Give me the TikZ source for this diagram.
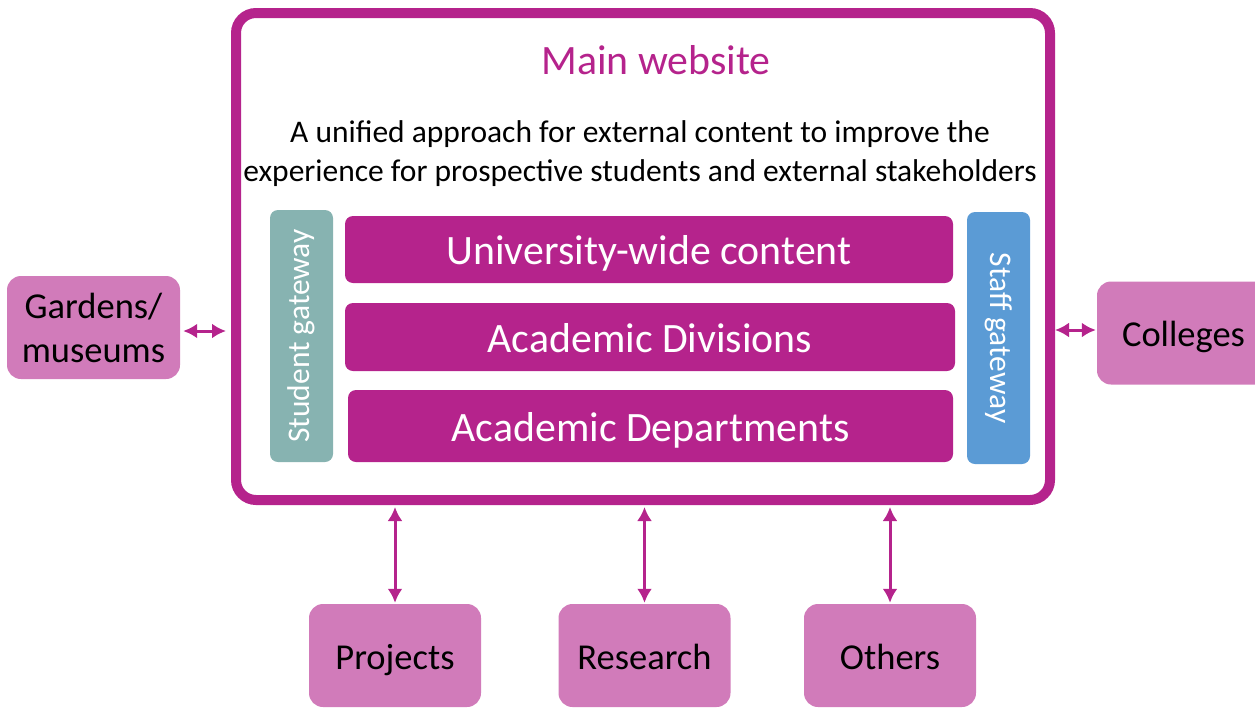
\documentclass[tikz,border=0pt]{standalone}
\usepackage{fontspec}
\setmainfont{Carlito}
\usepackage{tikz}
\usetikzlibrary{positioning}
\usetikzlibrary{arrows.meta}
\tikzset{>=latex}

\definecolor{webmag}{RGB}{181,35,140}
\definecolor{weblight}{RGB}{209,123,186}
\definecolor{webteal}{RGB}{135,179,177}
\definecolor{webblue}{RGB}{91,155,213}

\tikzset{
  oneline/.style={text height=#1, text depth=0pt},
  layerbox/.style={fill=webmag, rounded corners=8pt, text=white, inner sep=0pt, oneline=30pt,
    font=\fontsize{41.8}{46}\selectfont},
  gatebox/.style={rounded corners=8pt, text=white, inner sep=0pt,
    minimum width=63pt, minimum height=252pt, font=\fontsize{31.5}{34}\selectfont},
  sitebox/.style={fill=weblight, rounded corners=14pt, inner sep=0pt, align=center,
    minimum width=173pt, minimum height=103pt, font=\fontsize{36.5}{44}\selectfont},
  linkarrow/.style={{Latex[length=14pt,width=15pt]}-{Latex[length=14pt,width=15pt]},
    draw=webmag, line width=3pt}
}

\begin{document}
\begin{tikzpicture}[x=1pt, y=-1pt]
  \useasboundingbox (0,0) rectangle (1255,707);

  % --- 1. Main website frame ---
  \node[draw=webmag, line width=10pt, rounded corners=20pt, outer sep=0pt,
        minimum width=814pt, minimum height=487pt] (main) at (643,256.5) {};
  \node[text=webmag, font=\fontsize{41.8}{46}\selectfont] (title) at (656,60) {Main website};
  \node[align=center, font=\fontsize{31.5}{39}\selectfont] (intro) at (640,153.5)
    {A unified approach for external content to improve the\\
     experience for prospective students and external stakeholders};

  % --- 2. Gateways ---
  \node[gatebox, fill=webteal] (student) at (301.5,336) {\rotatebox{90}{Student gateway}};
  \node[gatebox, fill=webblue] (staff) at (998.5,338) {\rotatebox{-90}{Staff gateway}};

  % --- 3. Content layers ---
  \node[layerbox, minimum width=608pt, minimum height=67pt] (uni) at (649,249.5) {University-wide content};
  \node[layerbox, minimum width=610pt, minimum height=68pt] (div) at (650,337) {Academic Divisions};
  \node[layerbox, minimum width=605pt, minimum height=72pt] (dept) at (650.5,426) {Academic Departments};

  % --- 4. Surrounding sites ---
  \node[sitebox] (gard) at (93.5,327.5) {Gardens/\\museums};
  \node[sitebox, oneline=27pt] (coll) at (1183.5,333) {Colleges};
  \node[sitebox, oneline=27pt, minimum width=172pt] (proj) at (395,655.5) {Projects};
  \node[sitebox, oneline=27pt, minimum width=172pt] (res) at (644.5,655.5) {Research};
  \node[sitebox, oneline=27pt, minimum width=172pt] (oth) at (890,655.5) {Others};

  % --- 5. Links ---
  \draw[linkarrow, shorten <=3pt, shorten >=10pt] ([yshift=-3.5pt]gard.east) -- ([yshift=-3.5pt]gard.east -| main.west);
  \draw[linkarrow, shorten <=5pt, shorten >=1pt] ([yshift=3pt]coll.west -| main.east) -- ([yshift=3pt]coll.west);
  \draw[linkarrow, shorten <=7pt, shorten >=1pt] (proj.north |- main.south) -- (proj.north);
  \draw[linkarrow, shorten <=7pt, shorten >=1pt] (res.north |- main.south) -- (res.north);
  \draw[linkarrow, shorten <=7pt, shorten >=1pt] (oth.north |- main.south) -- (oth.north);
\end{tikzpicture}
\end{document}
